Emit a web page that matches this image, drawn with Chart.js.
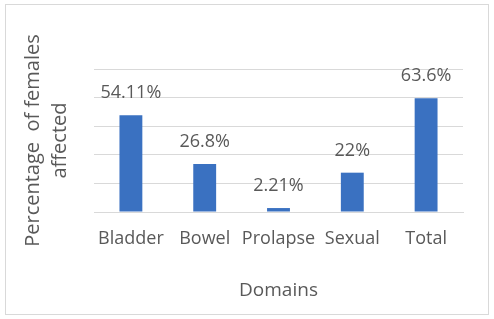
<!DOCTYPE html>
<html>
<head>
<meta charset="utf-8">
<script src="https://cdn.jsdelivr.net/npm/chart.js@4"></script>
<style>
  html, body { margin: 0; padding: 0; background: #fff; }
  #wrap { position: relative; width: 494px; height: 319px; }
  #frame {
    position: absolute; left: 5px; top: 4px; width: 482px; height: 309px;
    border: 1px solid #d9d9d9; pointer-events: none;
  }
  canvas { position: absolute; left: 0; top: 0; }
</style>
</head>
<body>
<div id="wrap">
  <canvas id="chart" width="494" height="319"></canvas>
  <div id="frame"></div>
</div>
<script>
// data
const domains = ['Bladder', 'Bowel', 'Prolapse', 'Sexual', 'Total'];
const affected = [54.11, 26.8, 2.21, 22, 63.6];
const valueLabels = ['54.11%', '26.8%', '2.21%', '22%', '63.6%'];

const textColor = '#595959';
const fontFamily = '"Open Sans", sans-serif';

// percentage text above each bar
const barLabels = {
    id: 'barLabels',
    afterDatasetsDraw(chart) {
        const ctx = chart.ctx;
        const meta = chart.getDatasetMeta(0);
        ctx.save();
        ctx.font = '18px ' + fontFamily;
        ctx.fillStyle = textColor;
        ctx.textAlign = 'center';
        ctx.textBaseline = 'middle';
        meta.data.forEach((bar, i) => {
            ctx.fillText(valueLabels[i], bar.x, bar.y - 22);
        });
        ctx.restore();
    }
};

const chart = new Chart(document.getElementById('chart'), {
    type: 'bar',
    data: {
        labels: domains,
        datasets: [{
            data: affected,
            backgroundColor: '#3a71c1',
            borderWidth: 0,
            categoryPercentage: 1,
            barPercentage: 0.31
        }]
    },
    options: {
        responsive: false,
        animation: false,
        layout: { padding: { left: 20, right: 31, top: 69, bottom: 17 } },
        plugins: {
            legend: { display: false },
            tooltip: { enabled: false }
        },
        scales: {
            x: {
                grid: { display: false, drawTicks: false },
                border: { color: '#d9d9d9' },
                ticks: {
                    color: textColor,
                    font: { family: fontFamily, size: 18 },
                    padding: 16,
                    maxRotation: 0,
                    minRotation: 0,
                    autoSkip: false
                },
                title: {
                    display: true,
                    text: 'Domains',
                    color: textColor,
                    font: { family: fontFamily, size: 19 },
                    padding: { top: 0, bottom: 0 }
                },
                afterFit(scale) { scale.height = 90; }
            },
            y: {
                min: 0,
                max: 80,
                ticks: { display: false, stepSize: 16 },
                grid: { color: '#d9d9d9', drawTicks: false },
                border: { display: false },
                title: {
                    display: true,
                    text: ['Percentage  of females', 'affected'],
                    color: textColor,
                    font: { family: fontFamily, size: 20, lineHeight: 1.35 },
                    padding: { top: 0, bottom: 0 }
                },
                afterFit(scale) { scale.width = 74; }
            }
        }
    },
    plugins: [barLabels]
});

// redraw once fonts are settled
document.fonts.ready.then(() => chart.update());
</script>
</body>
</html>
